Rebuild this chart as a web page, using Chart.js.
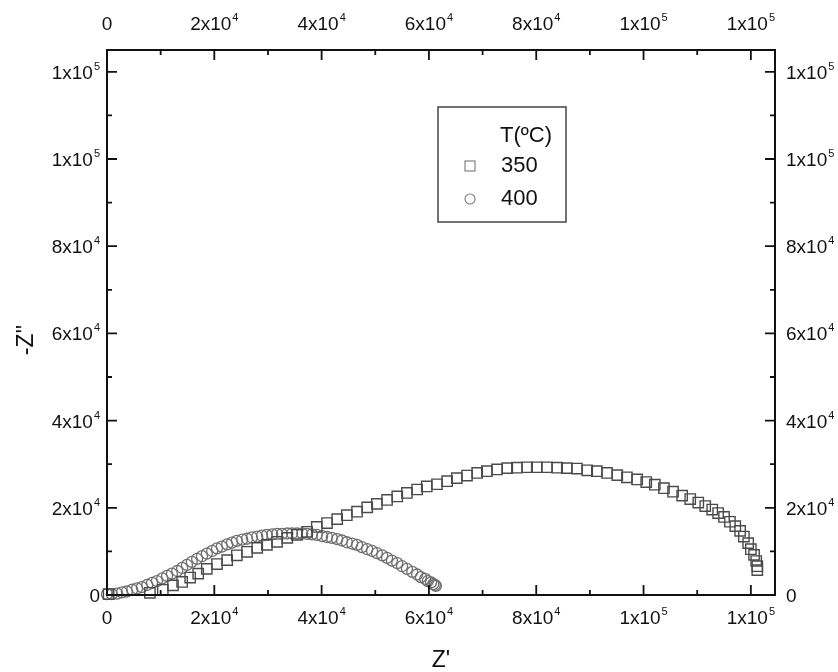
<!DOCTYPE html>
<html>
<head>
<meta charset="utf-8">
<script src="https://cdn.jsdelivr.net/npm/chart.js@4.4.0/dist/chart.umd.min.js"></script>
<style>
html, body { margin: 0; padding: 0; background: #fff; }
canvas { display: block; }
</style>
</head>
<body>
<canvas id="nyquist" width="838" height="672"></canvas>
<script>
// Z' e -Z'' (ohm)
const z350Re = [300, 8000, 10400, 12300, 14000, 15500, 17000, 18600, 20500, 22400, 24200, 26100, 28000, 29800, 31700, 33600, 35400, 37300, 39100, 41000, 42900, 44700, 46600, 48500, 50300, 52200, 54100, 55900, 57800, 59600, 61500, 63400, 65200, 67100, 69000, 70800, 72700, 74600, 76400, 78300, 80100, 82000, 83900, 85700, 87600, 89500, 91300, 93200, 95100, 96900, 98800, 100500, 102100, 103800, 105500, 107200, 108700, 110200, 111500, 112800, 113900, 115000, 116100, 117100, 118000, 118700, 119500, 120000, 120600, 121000, 121200, 121200];
const z350Im = [200, 500, 1200, 2200, 3000, 4000, 4900, 6000, 7100, 8000, 9100, 9900, 10800, 11500, 12200, 13100, 13800, 14500, 15600, 16500, 17400, 18300, 19100, 20100, 20900, 21800, 22600, 23400, 24200, 24900, 25400, 26100, 26800, 27400, 28000, 28400, 28800, 29100, 29200, 29300, 29300, 29300, 29200, 29100, 29000, 28600, 28400, 28000, 27500, 27000, 26500, 25900, 25300, 24500, 23700, 22800, 22000, 21200, 20400, 19600, 18800, 17900, 16800, 15800, 14700, 13400, 11900, 10500, 9200, 7800, 6600, 5700];

const z400Re = [0, 900, 1900, 2800, 3700, 4700, 5600, 6500, 7500, 8400, 9300, 10300, 11200, 12100, 13100, 14000, 14900, 15800, 16800, 17700, 18600, 19600, 20500, 21400, 22400, 23300, 24200, 25200, 26100, 27000, 28000, 28900, 29800, 30800, 31700, 32600, 33600, 34500, 35400, 36400, 37300, 38200, 39100, 40100, 41000, 41900, 42900, 43800, 44700, 45700, 46600, 47500, 48500, 49400, 50300, 51300, 52200, 53100, 54100, 55000, 55900, 56900, 57800, 58500, 59300, 59800, 60400, 60800, 61100, 61300];
const z400Im = [200, 200, 300, 600, 800, 1200, 1500, 1800, 2300, 2800, 3200, 3800, 4400, 4900, 5500, 6200, 6900, 7600, 8300, 8900, 9500, 10100, 10700, 11100, 11600, 12000, 12400, 12700, 12900, 13200, 13400, 13600, 13800, 13900, 14000, 14000, 14100, 14100, 14100, 14100, 14000, 13900, 13800, 13500, 13300, 13100, 12800, 12500, 12100, 11800, 11500, 11000, 10500, 10100, 9600, 9100, 8500, 7900, 7300, 6600, 6000, 5300, 4700, 4100, 3700, 3200, 2900, 2500, 2300, 2100];

const seriesLabels = ["350", "400"];
const legendTitle = "T(ºC)";
const xTitle = "Z'";
const yTitle = "-Z''";

const xTickValues = [0, 20000, 40000, 60000, 80000, 100000, 120000];
const xTickLabels = ["0", "2x10^4", "4x10^4", "6x10^4", "8x10^4", "1x10^5", "1x10^5"];
const yTickValues = [0, 20000, 40000, 60000, 80000, 100000, 120000];
const yTickLabels = ["0", "2x10^4", "4x10^4", "6x10^4", "8x10^4", "1x10^5", "1x10^5"];

const FONT = "'Liberation Sans', Arial, sans-serif";
const INK = "#111";

const toPoints = (xs, ys) => xs.map((v, i) => ({ x: v, y: ys[i] }));

// rótulo tipo 2x10^4 com expoente sobrescrito
function drawSci(ctx, label, px, py, align) {
  const parts = label.split("^");
  ctx.font = "19px " + FONT;
  const wm = ctx.measureText(parts[0]).width;
  ctx.font = "11px " + FONT;
  const we = parts[1] ? ctx.measureText(parts[1]).width + 1 : 0;
  const w = wm + we;
  const x0 = align === "center" ? px - w / 2 : align === "right" ? px - w : px;
  ctx.textAlign = "left";
  ctx.textBaseline = "alphabetic";
  ctx.font = "19px " + FONT;
  ctx.fillText(parts[0], x0, py);
  if (parts[1]) {
    ctx.font = "11px " + FONT;
    ctx.fillText(parts[1], x0 + wm + 1, py - 9);
  }
}

const framePlugin = {
  id: "frame",
  afterDraw(chart) {
    const { ctx, chartArea: a, scales: { x, y } } = chart;
    ctx.save();
    ctx.strokeStyle = "#111";
    ctx.lineWidth = 2;
    ctx.strokeRect(a.left, a.top, a.right - a.left, a.bottom - a.top);

    // ticks para dentro
    ctx.lineWidth = 1.8;
    ctx.beginPath();
    xTickValues.forEach(v => {
      const p = x.getPixelForValue(v);
      ctx.moveTo(p, a.bottom); ctx.lineTo(p, a.bottom - 10);
      ctx.moveTo(p, a.top); ctx.lineTo(p, a.top + 10);
      const m = x.getPixelForValue(v + 10000);
      if (v + 10000 < x.max) {
        ctx.moveTo(m, a.bottom); ctx.lineTo(m, a.bottom - 5);
        ctx.moveTo(m, a.top); ctx.lineTo(m, a.top + 5);
      }
    });
    yTickValues.forEach(v => {
      const p = y.getPixelForValue(v);
      ctx.moveTo(a.left, p); ctx.lineTo(a.left + 10, p);
      ctx.moveTo(a.right, p); ctx.lineTo(a.right - 10, p);
      const m = y.getPixelForValue(v + 10000);
      if (v + 10000 < y.max) {
        ctx.moveTo(a.left, m); ctx.lineTo(a.left + 5, m);
        ctx.moveTo(a.right, m); ctx.lineTo(a.right - 5, m);
      }
    });
    ctx.stroke();

    // rótulos dos ticks
    ctx.fillStyle = INK;
    xTickValues.forEach((v, i) => {
      const p = x.getPixelForValue(v);
      drawSci(ctx, xTickLabels[i], p, a.bottom + 29, "center");
      drawSci(ctx, xTickLabels[i], p, a.top - 20, "center");
    });
    yTickValues.forEach((v, i) => {
      const p = y.getPixelForValue(v);
      drawSci(ctx, yTickLabels[i], a.left - 7, p + 7, "right");
      drawSci(ctx, yTickLabels[i], a.right + 11, p + 7, "left");
    });

    // títulos dos eixos
    ctx.font = "23px " + FONT;
    ctx.textAlign = "center";
    ctx.textBaseline = "alphabetic";
    ctx.fillText(xTitle, (a.left + a.right) / 2, 667);
    ctx.save();
    ctx.translate(33, 340);
    ctx.rotate(-Math.PI / 2);
    ctx.fillText(yTitle, 0, 0);
    ctx.restore();

    // legenda
    ctx.strokeStyle = "#444";
    ctx.lineWidth = 1.5;
    ctx.strokeRect(438, 107, 128, 115);
    ctx.font = "22px " + FONT;
    ctx.textBaseline = "middle";
    ctx.textAlign = "left";
    ctx.fillText(legendTitle, 500, 136);
    ctx.fillText(seriesLabels[0], 501, 166);
    ctx.fillText(seriesLabels[1], 501, 199);
    ctx.lineWidth = 1.1;
    ctx.strokeStyle = "#777";
    ctx.strokeRect(465, 161, 10, 10);
    ctx.beginPath();
    ctx.arc(470, 199, 5, 0, Math.PI * 2);
    ctx.stroke();
    ctx.restore();
  }
};

new Chart(document.getElementById("nyquist"), {
  type: "scatter",
  data: {
    datasets: [
      {
        label: seriesLabels[0],
        data: toPoints(z350Re, z350Im),
        pointStyle: "rect",
        pointRadius: 7.3,
        borderColor: "#4a4a4a",
        backgroundColor: "rgba(255,255,255,0)",
        borderWidth: 1.4,
        clip: false
      },
      {
        label: seriesLabels[1],
        data: toPoints(z400Re, z400Im),
        pointStyle: "circle",
        pointRadius: 5.5,
        borderColor: "#6e6e6e",
        backgroundColor: "rgba(255,255,255,0)",
        borderWidth: 1.3,
        clip: false
      }
    ]
  },
  options: {
    responsive: false,
    animation: false,
    layout: { padding: { left: 107, top: 50, right: 63, bottom: 77 } },
    plugins: { legend: { display: false }, tooltip: { enabled: false } },
    scales: {
      x: { type: "linear", min: 0, max: 124500, display: false },
      y: { type: "linear", min: 0, max: 125000, display: false }
    }
  },
  plugins: [framePlugin]
});
</script>
</body>
</html>
